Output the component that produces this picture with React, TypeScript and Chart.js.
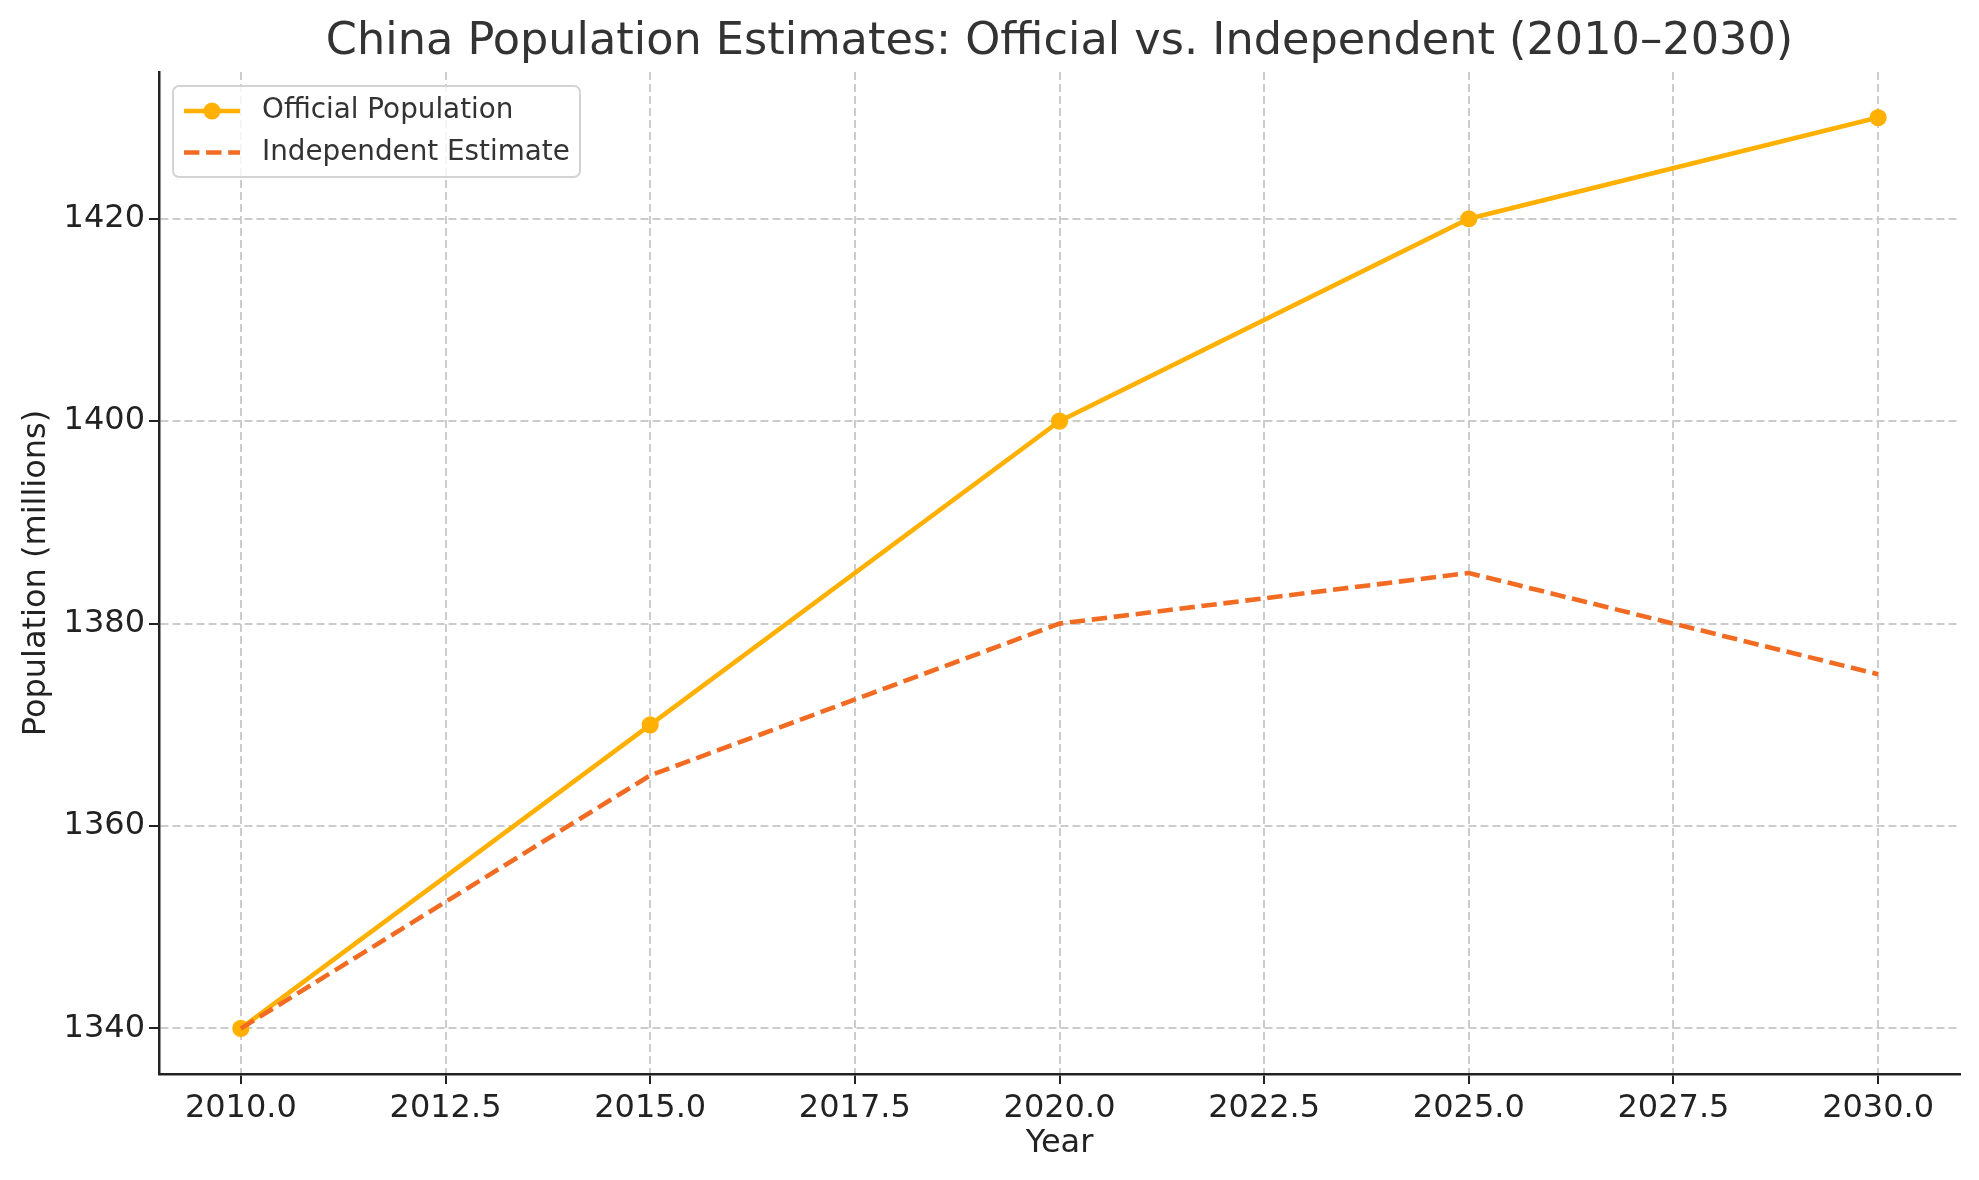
import React, { useEffect, useRef } from "react";
import { Chart, registerables } from "chart.js";

Chart.register(...registerables);

const years = [2010, 2015, 2020, 2025, 2030];
const officialPopulation = [1340, 1370, 1400, 1420, 1430];
const independentEstimate = [1340, 1365, 1380, 1385, 1375];
const xTickValues = [2010, 2012.5, 2015, 2017.5, 2020, 2022.5, 2025, 2027.5, 2030];
const yTickValues = [1340, 1360, 1380, 1400, 1420];
const seriesLabels = ["Official Population", "Independent Estimate"];
const titleText = "China Population Estimates: Official vs. Independent (2010\u20132030)";

const W = 1979;
const H = 1180;
const FONT = "'DejaVu Sans', sans-serif";
const OFFICIAL_COLOR = "#FFB000";
const INDEP_COLOR = "#F26B22";
const LINE_W = 4.6;
const MARKER_R = 8.6;

const titlePlugin = {
  id: "axesTitle",
  afterDraw(chart: any) {
    const { ctx, chartArea } = chart;
    ctx.save();
    ctx.fillStyle = "#333333";
    ctx.font = `44.6px ${FONT}`;
    ctx.textAlign = "center";
    ctx.textBaseline = "middle";
    ctx.fillText(titleText, (chartArea.left + chartArea.right) / 2, 42);
    ctx.restore();
  },
};

const legendPlugin = {
  id: "insideLegend",
  afterDraw(chart: any) {
    const { ctx, chartArea } = chart;
    const x0 = chartArea.left + 14;
    const y0 = chartArea.top + 14;
    const w = 407;
    const h = 91;
    ctx.save();
    ctx.fillStyle = "rgba(255,255,255,0.8)";
    ctx.strokeStyle = "#d3d3d3";
    ctx.lineWidth = 2;
    ctx.beginPath();
    const r = 6;
    ctx.moveTo(x0 + r, y0);
    ctx.lineTo(x0 + w - r, y0);
    ctx.arcTo(x0 + w, y0, x0 + w, y0 + r, r);
    ctx.lineTo(x0 + w, y0 + h - r);
    ctx.arcTo(x0 + w, y0 + h, x0 + w - r, y0 + h, r);
    ctx.lineTo(x0 + r, y0 + h);
    ctx.arcTo(x0, y0 + h, x0, y0 + h - r, r);
    ctx.lineTo(x0, y0 + r);
    ctx.arcTo(x0, y0, x0 + r, y0, r);
    ctx.closePath();
    ctx.fill();
    ctx.stroke();

    const lx1 = x0 + 11;
    const lx2 = x0 + 67;
    const rows = [y0 + 25, y0 + 66.5];
    ctx.strokeStyle = OFFICIAL_COLOR;
    ctx.lineWidth = LINE_W;
    ctx.setLineDash([]);
    ctx.beginPath();
    ctx.moveTo(lx1, rows[0]);
    ctx.lineTo(lx2, rows[0]);
    ctx.stroke();
    ctx.fillStyle = OFFICIAL_COLOR;
    ctx.beginPath();
    ctx.arc((lx1 + lx2) / 2, rows[0], MARKER_R, 0, Math.PI * 2);
    ctx.fill();
    ctx.strokeStyle = INDEP_COLOR;
    ctx.setLineDash([15.4, 6.7]);
    ctx.beginPath();
    ctx.moveTo(lx1, rows[1]);
    ctx.lineTo(lx2, rows[1]);
    ctx.stroke();
    ctx.setLineDash([]);

    ctx.fillStyle = "#333333";
    ctx.font = `27.8px ${FONT}`;
    ctx.textAlign = "left";
    ctx.textBaseline = "middle";
    ctx.fillText(seriesLabels[0], x0 + 89, rows[0]);
    ctx.fillText(seriesLabels[1], x0 + 89, rows[1]);
    ctx.restore();
  },
};

export default function App() {
  const ref = useRef<HTMLCanvasElement | null>(null);

  useEffect(() => {
    document.body.style.margin = "0";
    const canvas = ref.current!;
    const chart = new Chart(canvas, {
      type: "line",
      data: {
        datasets: [
          {
            label: seriesLabels[0],
            data: years.map((y, i) => ({ x: y, y: officialPopulation[i] })),
            borderColor: OFFICIAL_COLOR,
            backgroundColor: OFFICIAL_COLOR,
            borderWidth: LINE_W,
            pointRadius: MARKER_R,
            pointBorderWidth: 0,
            pointBackgroundColor: OFFICIAL_COLOR,
            tension: 0,
            order: 2,
          },
          {
            label: seriesLabels[1],
            data: years.map((y, i) => ({ x: y, y: independentEstimate[i] })),
            borderColor: INDEP_COLOR,
            backgroundColor: INDEP_COLOR,
            borderWidth: LINE_W,
            borderDash: [15.4, 6.7],
            pointRadius: 0,
            tension: 0,
            order: 1,
          },
        ],
      },
      options: {
        animation: false,
        responsive: false,
        devicePixelRatio: 1,
        layout: { padding: { left: 0, right: 19, top: 72, bottom: 0 } },
        plugins: {
          legend: { display: false },
          tooltip: { enabled: false },
          title: { display: false },
        },
        scales: {
          x: {
            type: "linear",
            min: 2009,
            max: 2031,
            afterBuildTicks: (scale: any) => {
              scale.ticks = xTickValues.map((v) => ({ value: v }));
            },
            afterFit: (scale: any) => {
              scale.height = H - 1074;
            },
            ticks: {
              color: "#222222",
              font: { family: FONT, size: 32 },
              padding: 5,
              maxRotation: 0,
              autoSkip: false,
              callback: (v: any) => Number(v).toFixed(1),
            },
            grid: {
              color: "#cccccc",
              lineWidth: 2,
              drawTicks: true,
              tickLength: 10,
              tickColor: "#222222",
              tickWidth: 2,
            },
            border: { display: true, color: "#222222", width: 2.5, dash: [8, 4] },
            title: {
              display: true,
              text: "Year",
              color: "#222222",
              font: { family: FONT, size: 32 },
              padding: { top: 0, bottom: 17 },
            },
          },
          y: {
            type: "linear",
            min: 1335.5,
            max: 1434.5,
            afterBuildTicks: (scale: any) => {
              scale.ticks = yTickValues.map((v) => ({ value: v }));
            },
            afterFit: (scale: any) => {
              scale.width = 159;
            },
            ticks: {
              color: "#222222",
              font: { family: FONT, size: 32 },
              padding: 4,
              autoSkip: false,
              callback: (v: any) => String(v),
            },
            grid: {
              color: "#cccccc",
              lineWidth: 2,
              drawTicks: true,
              tickLength: 10,
              tickColor: "#222222",
              tickWidth: 2,
            },
            border: { display: true, color: "#222222", width: 2.5, dash: [8, 4] },
            title: {
              display: true,
              text: "Population (millions)",
              color: "#222222",
              font: { family: FONT, size: 32 },
              padding: { top: 17, bottom: 0 },
            },
          },
        },
      },
      plugins: [legendPlugin, titlePlugin],
    });
    return () => chart.destroy();
  }, []);

  return (
    <div style={{ position: "absolute", left: 0, top: 0, width: W, height: H, background: "#fff" }}>
      <canvas ref={ref} width={W} height={H} style={{ width: W, height: H, display: "block" }} />
    </div>
  );
}
